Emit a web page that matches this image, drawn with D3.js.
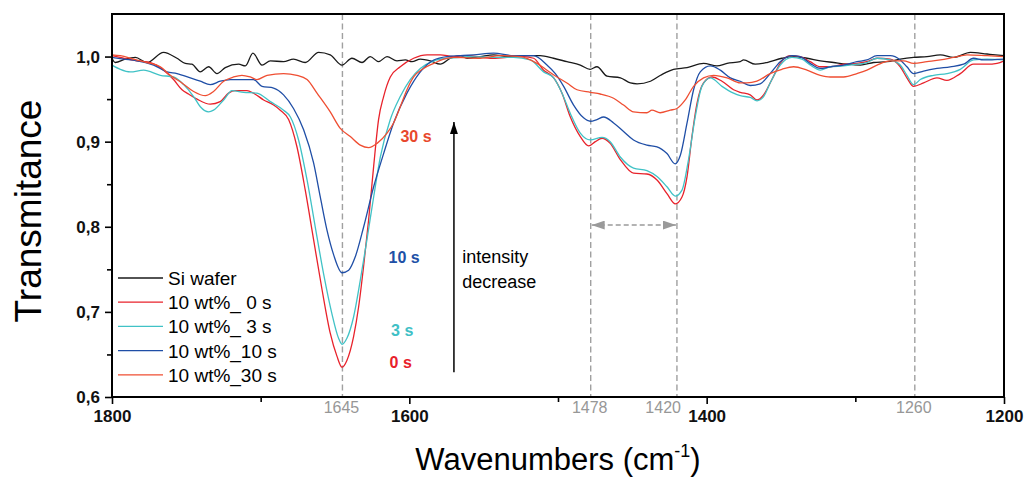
<!DOCTYPE html>
<html>
<head>
<meta charset="utf-8">
<script src="https://cdn.jsdelivr.net/npm/d3@7"></script>
<style>
  body { margin: 0; background: #fff; }
  text { font-family: "Liberation Sans", Arial, sans-serif; }
</style>
</head>
<body>
<script>
const width = 1025
const height = 479
const margin = {top: 14, right: 21, bottom: 82, left: 112}

// spectra, [wavenumber, transmittance]
const siWafer = [[1800,0.998],[1797.8,0.993],[1791,0.997],[1784.3,0.999],[1776.5,0.993],[1765.3,1.005],[1756.3,0.998],[1750.7,0.992],[1746.2,0.991],[1740.6,0.982],[1735,0.988],[1729.4,0.980],[1723.8,0.987],[1714.8,0.991],[1710.3,0.989],[1705.2,1.004],[1699.1,0.990],[1693.5,0.995],[1684.6,0.994],[1677.9,0.997],[1670,0.993],[1661,1.005],[1653.2,1.002],[1645.3,0.990],[1638.6,0.998],[1631.8,0.993],[1626.3,1.000],[1620.7,0.994],[1615,1.000],[1608.3,0.995],[1602.7,0.996],[1598.2,0.994],[1592.6,0.997],[1585.9,0.995],[1579.2,0.991],[1572.4,0.998],[1565.7,1.001],[1561.2,0.998],[1552.3,1.000],[1543.3,1.002],[1534.3,1.000],[1525.4,1.001],[1512,1.001],[1503,0.998],[1494,0.994],[1485,0.990],[1478.4,0.985],[1473.8,0.988],[1467,0.977],[1458,0.975],[1451.3,0.969],[1446.8,0.968],[1437.8,0.971],[1431,0.978],[1422.3,0.985],[1413.2,0.987],[1402.1,0.992],[1393.1,0.989],[1386.3,0.992],[1377.4,0.994],[1375.2,0.996],[1367.3,0.991],[1359.4,0.993],[1349.4,0.998],[1341.5,1.000],[1332.5,0.998],[1323.5,0.995],[1314.6,0.993],[1305.6,0.991],[1296.6,0.990],[1287.7,0.993],[1278.7,0.994],[1269.8,0.997],[1260.8,0.999],[1251.8,1.000],[1242.8,1.002],[1233.9,0.999],[1222.6,1.005],[1211.4,1.003],[1200,1.001]]

const wt0s = [[1800,1.001],[1792.2,0.998],[1783.2,0.995],[1774.2,0.993],[1765.3,0.984],[1758.6,0.973],[1752.9,0.961],[1748.5,0.956],[1742.8,0.950],[1733.9,0.944],[1727.2,0.947],[1721.6,0.957],[1717.1,0.960],[1709.2,0.960],[1704.8,0.957],[1698,0.949],[1691.3,0.943],[1686.8,0.937],[1681.2,0.926],[1675.6,0.894],[1670,0.843],[1664.4,0.785],[1658.7,0.726],[1653.2,0.675],[1648.7,0.648],[1645.3,0.635],[1642,0.643],[1637.5,0.671],[1634.1,0.706],[1630.8,0.753],[1627.4,0.808],[1624,0.871],[1620.7,0.926],[1617.3,0.953],[1612.8,0.976],[1606.1,0.988],[1597.1,0.998],[1588.1,1.002],[1579.2,1.002],[1570.2,1.000],[1561.2,1.001],[1545.5,0.998],[1534.3,0.999],[1523.2,1.000],[1516.4,0.998],[1509.7,0.984],[1502.9,0.975],[1497.3,0.957],[1491.7,0.929],[1485,0.906],[1479.4,0.895],[1474.9,0.900],[1470.4,0.904],[1464.9,0.898],[1458.1,0.879],[1449.2,0.863],[1440.2,0.862],[1433.4,0.855],[1426.7,0.839],[1421.1,0.827],[1416.6,0.835],[1413.2,0.859],[1409.9,0.906],[1406.5,0.945],[1402.1,0.969],[1396.4,0.976],[1389.7,0.971],[1381.9,0.961],[1377.4,0.958],[1370.7,0.955],[1366.2,0.949],[1361.7,0.955],[1356.1,0.973],[1350.5,0.992],[1343.8,1.001],[1337.1,1.000],[1330.4,0.994],[1323.6,0.988],[1316.9,0.988],[1307.9,0.991],[1298.9,0.992],[1292.2,0.994],[1285.4,0.998],[1276.5,0.997],[1269.8,0.988],[1265.3,0.975],[1260.8,0.965],[1254.1,0.969],[1245.1,0.975],[1238.4,0.972],[1229.4,0.980],[1220.5,0.991],[1211.4,0.991],[1204.7,0.992],[1200,0.995]]

const wt3s = [[1800,0.990],[1794.4,0.985],[1787.7,0.982],[1778.7,0.984],[1767.5,0.978],[1758.6,0.976],[1751.8,0.967],[1745.1,0.953],[1740.6,0.941],[1735,0.935],[1731.7,0.937],[1724.9,0.949],[1719.3,0.960],[1711.5,0.958],[1702.5,0.957],[1693.5,0.947],[1684.6,0.937],[1680,0.929],[1674.5,0.902],[1668.8,0.855],[1663.3,0.800],[1657.7,0.745],[1652.1,0.698],[1647.6,0.669],[1645.3,0.662],[1642,0.669],[1637.5,0.694],[1633,0.737],[1628.5,0.785],[1624,0.835],[1619.5,0.882],[1612.8,0.926],[1606.1,0.953],[1599.4,0.973],[1592.6,0.986],[1583.6,0.995],[1574.7,0.998],[1565.7,0.999],[1561.2,1.000],[1543.3,0.999],[1529.9,0.999],[1518.6,0.996],[1509.7,0.982],[1502.9,0.975],[1497.3,0.957],[1491.7,0.933],[1485,0.910],[1478.3,0.902],[1470.4,0.905],[1464.9,0.900],[1458.1,0.882],[1449.2,0.869],[1440.2,0.866],[1433.4,0.859],[1426.7,0.847],[1421.1,0.836],[1416.6,0.843],[1412.2,0.879],[1407.7,0.929],[1403.2,0.965],[1397.5,0.975],[1389.7,0.965],[1381.9,0.957],[1377.4,0.954],[1370.7,0.952],[1366.1,0.948],[1361.7,0.953],[1357.3,0.969],[1350.5,0.990],[1342.6,0.999],[1335.9,0.997],[1330.4,0.990],[1323.6,0.984],[1316.9,0.988],[1307.9,0.989],[1298.9,0.991],[1292.2,0.993],[1285.4,0.998],[1276.5,0.996],[1269.8,0.990],[1265.3,0.978],[1260.8,0.967],[1256.3,0.973],[1247.4,0.978],[1238.4,0.980],[1229.4,0.985],[1220.5,0.996],[1211.4,0.997],[1200,0.996]]

const wt10s = [[1800,0.999],[1792.2,0.997],[1783.2,0.995],[1772,0.990],[1763,0.982],[1756.3,0.980],[1747.3,0.975],[1740.6,0.971],[1733.9,0.967],[1727.2,0.971],[1720.4,0.973],[1709.2,0.973],[1704.8,0.973],[1699.1,0.965],[1691.3,0.963],[1684.6,0.955],[1677.9,0.939],[1671.1,0.914],[1664.4,0.875],[1659.9,0.835],[1655.4,0.796],[1650.9,0.767],[1645.3,0.746],[1640.8,0.749],[1636.3,0.765],[1630.7,0.800],[1624,0.847],[1617.3,0.886],[1610.6,0.922],[1601.6,0.957],[1592.6,0.982],[1583.6,0.996],[1574.7,1.000],[1565.7,1.001],[1556.8,1.002],[1543.3,1.004],[1529.9,1.001],[1516.4,1.001],[1507.4,0.990],[1501.8,0.980],[1496.2,0.965],[1489.5,0.943],[1482.8,0.928],[1478.3,0.924],[1473.8,0.926],[1469.3,0.929],[1462.6,0.922],[1455.9,0.912],[1449.2,0.902],[1440.2,0.896],[1433.4,0.894],[1426.7,0.886],[1421.2,0.874],[1417.7,0.884],[1413.2,0.922],[1408.8,0.961],[1404.3,0.982],[1397.5,0.989],[1390.8,0.984],[1384.1,0.975],[1377.4,0.971],[1370.7,0.966],[1364,0.968],[1357.3,0.980],[1350.5,0.994],[1342.6,1.001],[1337.1,1.000],[1330.4,0.992],[1323.6,0.986],[1316.9,0.988],[1307.9,0.990],[1298.9,0.994],[1292.2,0.996],[1285.4,1.001],[1276.5,1.001],[1269.8,0.996],[1265.3,0.988],[1260.8,0.980],[1254.1,0.983],[1245.1,0.986],[1236.2,0.988],[1227.2,0.991],[1220.5,0.998],[1213.7,0.996],[1200,0.997]]

const wt30s = [[1800,1.002],[1794.4,1.001],[1785.5,0.997],[1776.5,0.993],[1767.5,0.988],[1760.8,0.978],[1752.9,0.969],[1745.1,0.959],[1737.2,0.954],[1731.7,0.959],[1724.9,0.971],[1718.2,0.976],[1712.6,0.978],[1707,0.976],[1702.5,0.973],[1695.7,0.978],[1684.6,0.980],[1675.6,0.978],[1668.8,0.973],[1662.1,0.957],[1653.2,0.935],[1646.6,0.916],[1639.7,0.906],[1633,0.896],[1627.4,0.893],[1621.7,0.898],[1615,0.910],[1610.6,0.922],[1606.1,0.941],[1601.6,0.961],[1597.1,0.976],[1590.4,0.986],[1583.6,0.992],[1576.9,0.997],[1570.2,0.999],[1552.3,0.998],[1538.8,1.001],[1525.4,1.000],[1514.1,0.992],[1507.4,0.984],[1500.7,0.976],[1494,0.969],[1487.2,0.961],[1478.3,0.958],[1471.6,0.956],[1462.6,0.951],[1455.9,0.943],[1449.2,0.935],[1440.2,0.934],[1436.8,0.937],[1431.3,0.934],[1424.5,0.937],[1420,0.939],[1414.4,0.949],[1408.8,0.965],[1402.1,0.975],[1395.3,0.978],[1386.3,0.975],[1377.4,0.969],[1373,0.969],[1366.2,0.971],[1357.3,0.980],[1349.4,0.985],[1341.5,0.988],[1332.5,0.984],[1323.6,0.978],[1316.9,0.976],[1307.9,0.976],[1298.9,0.980],[1292.2,0.984],[1285.4,0.990],[1276.5,0.995],[1267.5,0.995],[1260.8,0.992],[1251.8,0.994],[1242.8,0.996],[1233.9,0.999],[1224.9,1.002],[1211.4,1.001],[1200,1.000]]

const seriesNames = ["Si wafer", "10 wt%_ 0 s", "10 wt%_ 3 s", "10 wt%_10 s", "10 wt%_30 s"]
const seriesColors = ["#1a1a1a", "#e8222b", "#40c2c6", "#1f4ea6", "#ef4e32"]
const seriesData = [siWafer, wt0s, wt3s, wt10s, wt30s]

const xMajorTicks = [1800, 1600, 1400, 1200]
const xMinorTicks = [1700, 1500, 1300]
const yMajorTicks = [0.6, 0.7, 0.8, 0.9, 1.0]
const yMinorTicks = [0.65, 0.75, 0.85, 0.95]

// marked bands (dashed lines) and time labels
const bandPositions = [1645, 1478, 1420, 1260]
const timeLabels = [
  {text: "30 s", w: 1606, t: 0.900, color: "#e8482c"},
  {text: "10 s", w: 1614, t: 0.758, color: "#2050a6"},
  {text: "3 s", w: 1612.3, t: 0.672, color: "#40c0c6"},
  {text: "0 s", w: 1613.3, t: 0.634, color: "#e8202a"}
]
const arrowUp = {w: 1570, from: 0.629, to: 0.923}
const shiftArrow = {from: 1478, to: 1420, t: 0.802}

const x = d3.scaleLinear().domain([1800, 1200]).range([margin.left, width - margin.right])
const y = d3.scaleLinear().domain([0.6, 1.05]).range([height - margin.bottom, margin.top])

const svg = d3.select("body").append("svg")
    .attr("width", width)
    .attr("height", height)

const defs = svg.append("defs")
defs.append("marker")
    .attr("id", "headBlack")
    .attr("markerUnits", "userSpaceOnUse")
    .attr("markerWidth", 12).attr("markerHeight", 8)
    .attr("refX", 12).attr("refY", 4)
    .attr("orient", "auto")
  .append("path")
    .attr("d", "M0,0 L12,4 L0,8 Z")
    .attr("fill", "#000")
defs.append("marker")
    .attr("id", "headGray")
    .attr("markerUnits", "userSpaceOnUse")
    .attr("markerWidth", 13).attr("markerHeight", 9)
    .attr("refX", 13).attr("refY", 4.5)
    .attr("orient", "auto-start-reverse")
  .append("path")
    .attr("d", "M0,0 L13,4.5 L0,9 Z")
    .attr("fill", "#9a9a9a")

// dashed band lines
svg.selectAll(".band")
  .data(bandPositions)
  .enter().append("line")
    .attr("class", "band")
    .attr("x1", function (d) { return x(d) })
    .attr("x2", function (d) { return x(d) })
    .attr("y1", y(1.05))
    .attr("y2", y(0.6))
    .attr("stroke", "#a0a0a0")
    .attr("stroke-width", 1.4)
    .attr("stroke-dasharray", "6,3.5")

const line = d3.line()
    .x(function (d) { return x(d[0]) })
    .y(function (d) { return y(d[1]) })
    .curve(d3.curveMonotoneX)

svg.selectAll(".spectrum")
  .data(seriesData)
  .enter().append("path")
    .attr("class", "spectrum")
    .attr("d", line)
    .attr("fill", "none")
    .attr("stroke", function (d, i) { return seriesColors[i] })
    .attr("stroke-width", 1.3)

// axes
const fmt = function (d) { return d3.format(".1f")(d).replace(".", ",") }

svg.append("g")
    .attr("transform", `translate(${margin.left},0)`)
    .call(d3.axisLeft(y).tickValues(yMajorTicks).tickFormat(fmt).tickSize(7).tickPadding(5))
svg.append("g")
    .attr("transform", `translate(${margin.left},0)`)
    .call(d3.axisLeft(y).tickValues(yMinorTicks).tickFormat("").tickSize(5))

svg.append("g")
    .attr("transform", `translate(0,${height - margin.bottom})`)
    .call(d3.axisBottom(x).tickValues(xMajorTicks).tickFormat(d3.format("d")).tickSize(7).tickPadding(6))
svg.append("g")
    .attr("transform", `translate(0,${height - margin.bottom})`)
    .call(d3.axisBottom(x).tickValues(xMinorTicks).tickFormat("").tickSize(5))

svg.selectAll(".domain").remove()
svg.selectAll(".tick line").attr("stroke", "#000").attr("stroke-width", 1.6)
svg.selectAll(".tick text")
    .attr("fill", "#111")
    .style("font-size", "17px")
    .style("font-weight", "bold")
    .style("font-family", "'Liberation Sans', Arial, sans-serif")

// frame
svg.append("rect")
    .attr("x", x(1800))
    .attr("y", y(1.05))
    .attr("width", x(1200) - x(1800))
    .attr("height", y(0.6) - y(1.05))
    .attr("fill", "none")
    .attr("stroke", "#000")
    .attr("stroke-width", 2)

// band labels under the axis
svg.selectAll(".bandLabel")
  .data(bandPositions)
  .enter().append("text")
    .attr("class", "bandLabel")
    .attr("x", function (d) { return d === 1420 ? x(d) + 4 : x(d) - 1 })
    .attr("y", height - margin.bottom + 16)
    .attr("text-anchor", function (d) { return d === 1420 ? "end" : "middle" })
    .attr("fill", "#979797")
    .style("font-size", "16px")
    .text(function (d) { return d })

// axis titles
const xTitle = svg.append("text")
    .attr("x", (x(1800) + x(1200)) / 2)
    .attr("y", 470)
    .attr("text-anchor", "middle")
    .style("font-size", "31px")
xTitle.append("tspan").text("Wavenumbers (cm")
xTitle.append("tspan").attr("dy", -13).style("font-size", "18px").text("-1")
xTitle.append("tspan").attr("dy", 13).text(")")

svg.append("text")
    .attr("transform", `translate(41,211) rotate(-90)`)
    .attr("text-anchor", "middle")
    .style("font-size", "37px")
    .text("Transmitance")

// time labels
svg.selectAll(".timeLabel")
  .data(timeLabels)
  .enter().append("text")
    .attr("class", "timeLabel")
    .attr("x", function (d) { return x(d.w) })
    .attr("y", function (d) { return y(d.t) })
    .attr("fill", function (d) { return d.color })
    .style("font-size", "16px")
    .style("font-weight", "bold")
    .text(function (d) { return d.text })

// intensity arrow
svg.append("line")
    .attr("x1", x(arrowUp.w)).attr("x2", x(arrowUp.w))
    .attr("y1", y(arrowUp.from)).attr("y2", y(arrowUp.to))
    .attr("stroke", "#000")
    .attr("stroke-width", 1.5)
    .attr("marker-end", "url(#headBlack)")

const note = svg.append("text")
    .attr("x", x(1564.4))
    .attr("y", y(0.757))
    .style("font-size", "18px")
note.append("tspan").text("intensity")
note.append("tspan").attr("x", x(1564.4)).attr("dy", 24.5).text("decrease")

// band shift arrow
svg.append("line")
    .attr("x1", x(shiftArrow.from) + 1).attr("x2", x(shiftArrow.to) - 1)
    .attr("y1", y(shiftArrow.t)).attr("y2", y(shiftArrow.t))
    .attr("stroke", "#9a9a9a")
    .attr("stroke-width", 1.5)
    .attr("stroke-dasharray", "5,3")
    .attr("marker-start", "url(#headGray)")
    .attr("marker-end", "url(#headGray)")

// legend
const legend = svg.append("g")
    .attr("transform", "translate(118,278)")

const item = legend.selectAll(".item")
  .data(seriesNames)
  .enter().append("g")
    .attr("class", "item")
    .attr("transform", function (d, i) { return `translate(0,${i * 24.2})` })

item.append("line")
    .attr("x1", 0).attr("x2", 45)
    .attr("stroke", function (d, i) { return seriesColors[i] })
    .attr("stroke-width", 1.3)

item.append("text")
    .attr("x", 50)
    .attr("y", 7)
    .style("font-size", "19px")
    .text(function (d) { return d })
</script>
</body>
</html>
